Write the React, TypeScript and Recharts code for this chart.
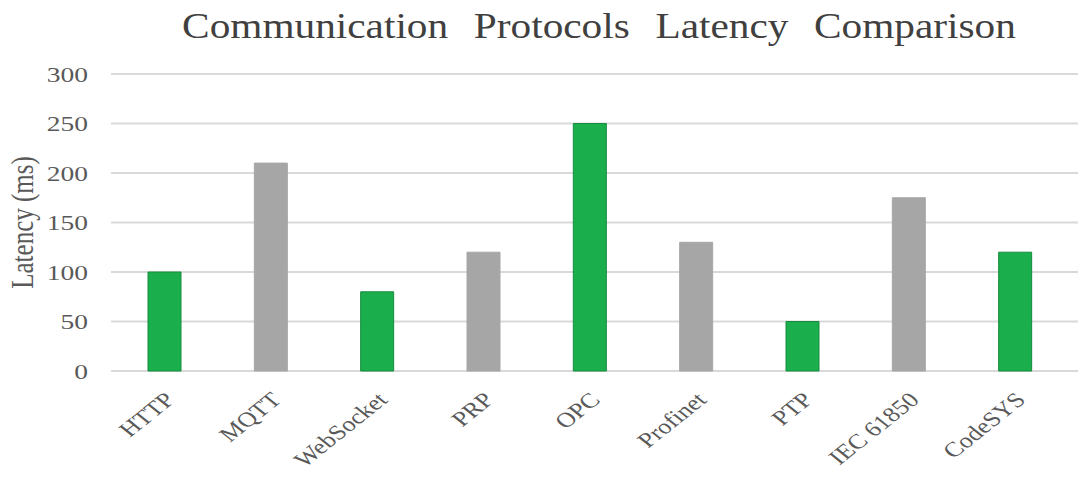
import { Bar, BarChart, CartesianGrid, Cell, XAxis, YAxis } from "recharts";

// Latency per protocol, alternating green / grey bars
const protocols = ["HTTP", "MQTT", "WebSocket", "PRP", "OPC", "Profinet", "PTP", "IEC 61850", "CodeSYS"];
const latencyMs = [100, 210, 80, 120, 250, 130, 50, 175, 120];
const yTicks = [0, 50, 100, 150, 200, 250, 300];

const GREEN = "#1bae4c";
const GREEN_EDGE = "#158c3d";
const GREY = "#a6a6a6";
const TEXT = "#595959";
const FONT = "'Liberation Serif', 'Times New Roman', serif";
// text is drawn a bit wide, like the original chart export
const WIDE = "scale(1.25,1)";

const data = protocols.map((name, i) => ({ name, latency: latencyMs[i] }));

function AngledTick({ x, y, payload }: any) {
  return (
    <g transform={`translate(${x + 12},${y + 22}) ${WIDE} rotate(-45)`}>
      <text x={0} y={0} textAnchor="end" fontFamily={FONT} fontSize={21} fill={TEXT}>
        {payload.value}
      </text>
    </g>
  );
}

function ValueTick({ x, y, payload }: any) {
  return (
    <g transform={`translate(${x},${y}) ${WIDE}`}>
      <text x={0} y={0} dy="0.35em" textAnchor="end" fontFamily={FONT} fontSize={22} fill={TEXT}>
        {payload.value}
      </text>
    </g>
  );
}

function AxisTitle({ viewBox }: any) {
  const cx = viewBox.x + 22;
  const cy = viewBox.y + viewBox.height / 2;
  return (
    <g transform={`translate(${cx},${cy}) ${WIDE} rotate(-90)`}>
      <text x={0} y={0} dy="0.35em" textAnchor="middle" fontFamily={FONT} fontSize={25} fill={TEXT}>
        Latency (ms)
      </text>
    </g>
  );
}

export default function App() {
  return (
    <div style={{ position: "absolute", left: 0, top: 0, width: 1078, height: 477, background: "#fff" }}>
      <svg width={1078} height={50} style={{ position: "absolute", left: 0, top: 0 }}>
        <g transform="translate(599,38) scale(1.18,1)">
          <text x={0} y={0} textAnchor="middle" fontFamily={FONT} fontSize={35} fill="#404040" wordSpacing={13}>
            Communication Protocols Latency Comparison
          </text>
        </g>
      </svg>
      <BarChart
        width={1078}
        height={477}
        data={data}
        margin={{ top: 74, right: 0, left: 0, bottom: 0 }}
        barSize={33}
      >
        <CartesianGrid vertical={false} stroke="#d9d9d9" strokeWidth={2} />
        <XAxis
          dataKey="name"
          axisLine={false}
          tickLine={false}
          interval={0}
          height={106}
          padding={{ left: 0, right: 10 }}
          tick={<AngledTick />}
        />
        <YAxis
          domain={[0, 300]}
          ticks={yTicks}
          width={111}
          axisLine={false}
          tickLine={false}
          tickMargin={17}
          tick={<ValueTick />}
          label={<AxisTitle />}
        />
        <Bar dataKey="latency" isAnimationActive={false}>
          {data.map((d, i) => (
            <Cell
              key={d.name}
              fill={i % 2 === 0 ? GREEN : GREY}
              stroke={i % 2 === 0 ? GREEN_EDGE : GREY}
              strokeWidth={1}
            />
          ))}
        </Bar>
      </BarChart>
    </div>
  );
}
